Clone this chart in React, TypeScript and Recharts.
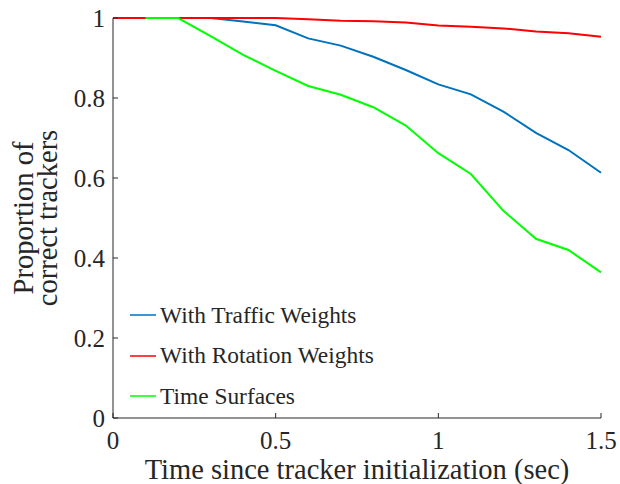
import {
  LineChart,
  Line,
  XAxis,
  YAxis,
  Legend,
  Label,
} from 'recharts';

// time since tracker initialization (sec)
const times = [0, 0.1, 0.2, 0.3, 0.4, 0.5, 0.6, 0.7, 0.8, 0.9, 1.0, 1.1, 1.2, 1.3, 1.4, 1.5];
const trafficWeights = [1, 1, 1, 1, 0.991, 0.982, 0.949, 0.931, 0.903, 0.87, 0.834, 0.809, 0.766, 0.713, 0.67, 0.613];
const rotationWeights = [1, 1, 1, 1, 1, 1, 0.997, 0.993, 0.992, 0.989, 0.981, 0.978, 0.974, 0.966, 0.962, 0.953];
const timeSurfaces = [null, 1, 1, 0.955, 0.908, 0.868, 0.83, 0.808, 0.777, 0.731, 0.662, 0.61, 0.518, 0.448, 0.42, 0.364];

const seriesNames = ['With Traffic Weights', 'With Rotation Weights', 'Time Surfaces'];
const xTicks = [0, 0.5, 1, 1.5];
const yTicks = [0, 0.2, 0.4, 0.6, 0.8, 1];

const FONT = '"Liberation Serif", "Times New Roman", Times, serif';
const INK = '#262626';

const data = times.map((t, i) => ({
  t,
  traffic: trafficWeights[i],
  rotation: rotationWeights[i],
  surfaces: timeSurfaces[i],
}));

function YTitle() {
  return (
    <g fontFamily={FONT} fontSize={28.5} fill={INK}>
      <text transform="translate(33, 218) rotate(-90)" textAnchor="middle">
        Proportion of
      </text>
      <text transform="translate(57, 218) rotate(-90)" textAnchor="middle">
        correct trackers
      </text>
    </g>
  );
}

function LegendBox({ payload }: any) {
  if (!payload) return null;
  // keep the plotting order, not the alphabetical one
  const items = [...payload].sort((a: any, b: any) => seriesNames.indexOf(a.value) - seriesNames.indexOf(b.value));
  return (
    <div style={{ fontFamily: FONT, fontSize: 23.4, color: INK }}>
      {items.map((e: any) => (
        <div key={e.value} style={{ display: 'flex', alignItems: 'center', height: 40.5, whiteSpace: 'nowrap' }}>
          <svg width={26} height={4} style={{ display: 'block' }}>
            <line x1={0} y1={2} x2={26} y2={2} stroke={e.color} strokeWidth={1.5} />
          </svg>
          <span style={{ marginLeft: 4, fontFamily: FONT }}>{e.value}</span>
        </div>
      ))}
    </div>
  );
}

export default function App() {
  const tickStyle = { fill: INK, fontSize: 25, fontFamily: FONT };
  return (
    <div style={{ position: 'absolute', left: 0, top: 0, fontFamily: FONT }}>
      <LineChart
        width={620}
        height={484}
        data={data}
        margin={{ top: 18, right: 19, left: 0, bottom: 0 }}
        style={{ fontFamily: FONT }}
      >
        <XAxis
          dataKey="t"
          type="number"
          domain={[0, 1.5]}
          ticks={xTicks}
          height={66}
          tick={tickStyle}
          tickSize={-5}
          tickMargin={18}
          stroke={INK}
          interval={0}
        >
          <Label
            value="Time since tracker initialization (sec)"
            position="insideBottom"
            offset={5}
            style={{ fontFamily: FONT, fontSize: 28.5, fill: INK }}
          />
        </XAxis>
        <XAxis
          xAxisId="top"
          dataKey="t"
          type="number"
          orientation="top"
          domain={[0, 1.5]}
          ticks={xTicks}
          height={0}
          tick={false}
          tickSize={-5}
          stroke={INK}
        />
        <YAxis
          type="number"
          domain={[0, 1]}
          ticks={yTicks}
          width={113}
          tick={tickStyle}
          tickSize={-5}
          tickMargin={13}
          stroke={INK}
          interval={0}
        >
          <Label content={<YTitle />} />
        </YAxis>
        <YAxis
          yAxisId="right"
          type="number"
          orientation="right"
          domain={[0, 1]}
          ticks={yTicks}
          width={0}
          tick={false}
          tickSize={-5}
          stroke={INK}
        />
        <Legend
          layout="vertical"
          align="center"
          verticalAlign="middle"
          content={<LegendBox />}
          wrapperStyle={{ left: 130, top: 294.75, width: 'auto' }}
        />
        <Line dataKey="traffic" name={seriesNames[0]} stroke="#0072BD" strokeWidth={2} dot={false} isAnimationActive={false} />
        <Line dataKey="rotation" name={seriesNames[1]} stroke="#FF0000" strokeWidth={2} dot={false} isAnimationActive={false} />
        <Line dataKey="surfaces" name={seriesNames[2]} stroke="#00FF00" strokeWidth={2} dot={false} isAnimationActive={false} />
      </LineChart>
    </div>
  );
}
